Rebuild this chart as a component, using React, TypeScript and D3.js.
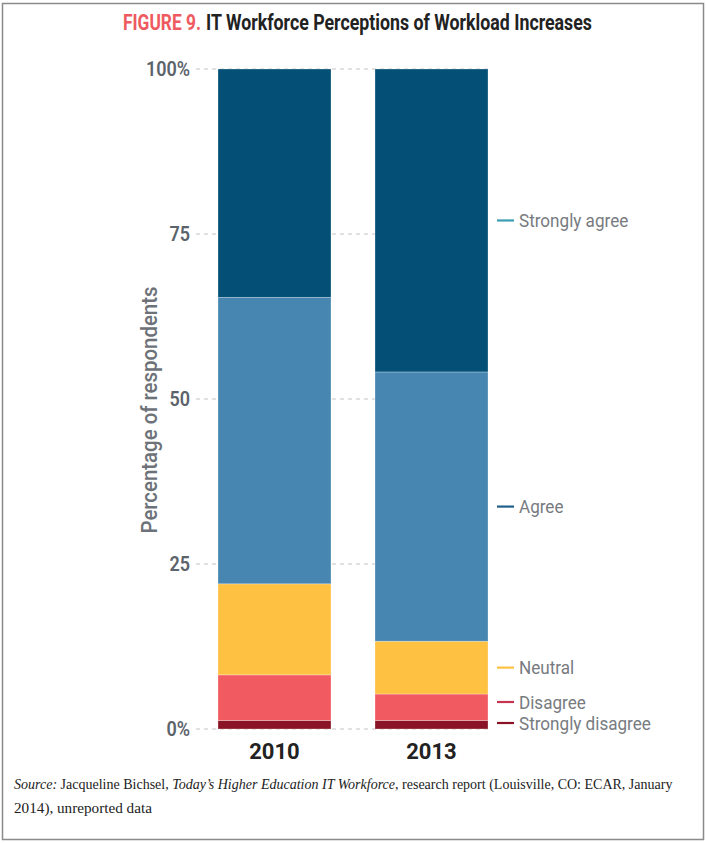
import React, { useLayoutEffect, useRef, useState } from "react";
import * as d3 from "d3";

const years = ["2010", "2013"];
const categories = ["Strongly disagree", "Disagree", "Neutral", "Agree", "Strongly agree"];
const values2010 = [1.3, 6.9, 13.8, 43.4, 34.6];
const values2013 = [1.3, 4.0, 8.0, 40.8, 45.9];
const yTicks = [0, 25, 50, 75, 100];
const yTickLabels = ["0%", "25", "50", "75", "100%"];
const barColors = ["#8a1426", "#f25a61", "#fec142", "#4686b1", "#034f76"];
const legendColors = ["#8a1426", "#c8344f", "#fec142", "#1f5f8a", "#3a9db3"];

const W = 706;
const H = 843;

function FitText(props: { x: number; y: number; width: number; children: any; [k: string]: any }) {
  const { x, y, width, children, ...rest } = props;
  const ref = useRef<SVGTextElement>(null);
  const [sx, setSx] = useState(1);
  useLayoutEffect(() => {
    if (ref.current) {
      const w = ref.current.getComputedTextLength();
      if (w > 0) setSx(width / w);
    }
  }, [width]);
  return (
    <g transform={`translate(${x},${y}) scale(${sx},1)`}>
      <text ref={ref} x={0} y={0} {...rest}>
        {children}
      </text>
    </g>
  );
}

export default function App() {
  const y = d3.scaleLinear().domain([0, 100]).range([729, 69]);
  const x = d3.scaleBand().domain(years).range([218, 488]).paddingInner(0.2803).paddingOuter(0);
  const rows = [values2010, values2013].map((vals, i) => {
    const obj: any = { year: years[i] };
    categories.forEach((c, j) => (obj[c] = vals[j]));
    return obj;
  });
  const stacked = d3.stack().keys(categories)(rows);

  const last = stacked.map((s) => {
    const d = s[1];
    return (y(d[0]) + y(d[1])) / 2;
  });
  const pos = last.slice();
  const minGap = 21;
  for (let i = pos.length - 2; i >= 0; i--) {
    if (pos[i] - pos[i + 1] < minGap) pos[i] = pos[i + 1] + minGap;
  }
  const maxBottom = 723;
  if (pos[0] > maxBottom) {
    pos[0] = maxBottom;
    for (let i = 1; i < pos.length; i++) {
      if (pos[i - 1] - pos[i] < minGap) pos[i] = pos[i - 1] - minGap;
    }
  }

  const gridX1 = 196;
  const gridX2 = 490;

  return (
    <svg width={W} height={H} style={{ position: "absolute", left: 0, top: 0 }} xmlns="http://www.w3.org/2000/svg">
      <rect x={0} y={0} width={W} height={H} fill="#fff" />
      <rect x={2.5} y={3.5} width={701} height={836} fill="none" stroke="#8a8a8a" strokeWidth={1.5} />
      <FitText x={123} y={30} width={78} fill="#ee5a60" fontFamily="Roboto, 'Open Sans', sans-serif" fontWeight={700} fontSize={21.5}>
        FIGURE 9.
      </FitText>
      <FitText x={206} y={30} width={386} fill="#222" fontFamily="Roboto, 'Open Sans', sans-serif" fontWeight={700} fontSize={21.5}>
        IT Workforce Perceptions of Workload Increases
      </FitText>

      {yTicks.map((t, i) => (
        <g key={t}>
          <line x1={gridX1} x2={gridX2} y1={y(t)} y2={y(t)} stroke="#c4c4c4" strokeWidth={1} strokeDasharray="4,4" />
          <g transform={`translate(190,${y(t) + 7}) scale(0.9,1)`}>
            <text x={0} y={0} textAnchor="end" fontFamily="Roboto, sans-serif" fontWeight={600} fontSize={20} fill="#5c636b">
              {yTickLabels[i]}
            </text>
          </g>
        </g>
      ))}

      <text
        transform={`translate(157,410) rotate(-90) scale(0.95,1)`}
        textAnchor="middle"
        fontFamily="Roboto, sans-serif"
        fontWeight={500}
        fontSize={21.5}
        fill="#6d7278"
      >
        Percentage of respondents
      </text>

      {stacked.map((s, i) => (
        <g key={categories[i]} fill={barColors[i]}>
          {s.map((d: any) => (
            <rect
              key={d.data.year}
              x={x(d.data.year)}
              y={y(d[1])}
              width={x.bandwidth()}
              height={y(d[0]) - y(d[1])}
              stroke="#fff"
              strokeOpacity={0.35}
              strokeWidth={0.8}
            />
          ))}
        </g>
      ))}

      {years.map((yr) => (
        <text
          key={yr}
          x={(x(yr) as number) + x.bandwidth() / 2}
          y={759}
          textAnchor="middle"
          fontFamily="Roboto, sans-serif"
          fontWeight={700}
          fontSize={22}
          fill="#222"
        >
          {yr}
        </text>
      ))}

      {categories.map((c, i) => (
        <g key={c}>
          <line x1={497} x2={514} y1={pos[i]} y2={pos[i]} stroke={legendColors[i]} strokeWidth={2.2} />
          <g transform={`translate(519,${pos[i] + 6.5}) scale(0.9,1)`}>
            <text x={0} y={0} fontFamily="Roboto, sans-serif" fontSize={19} fill="#777b80">
              {c}
            </text>
          </g>
        </g>
      ))}

      <FitText x={14} y={789} width={659} fontFamily="'Liberation Serif', serif" fontSize={14.5} fill="#222">
        <tspan fontStyle="italic">Source:</tspan> Jacqueline Bichsel, <tspan fontStyle="italic">Today’s Higher Education IT Workforce</tspan>, research report (Louisville, CO: ECAR, January
      </FitText>
      <FitText x={14} y={813} width={138} fontFamily="'Liberation Serif', serif" fontSize={14.5} fill="#222">
        2014), unreported data
      </FitText>
    </svg>
  );
}
